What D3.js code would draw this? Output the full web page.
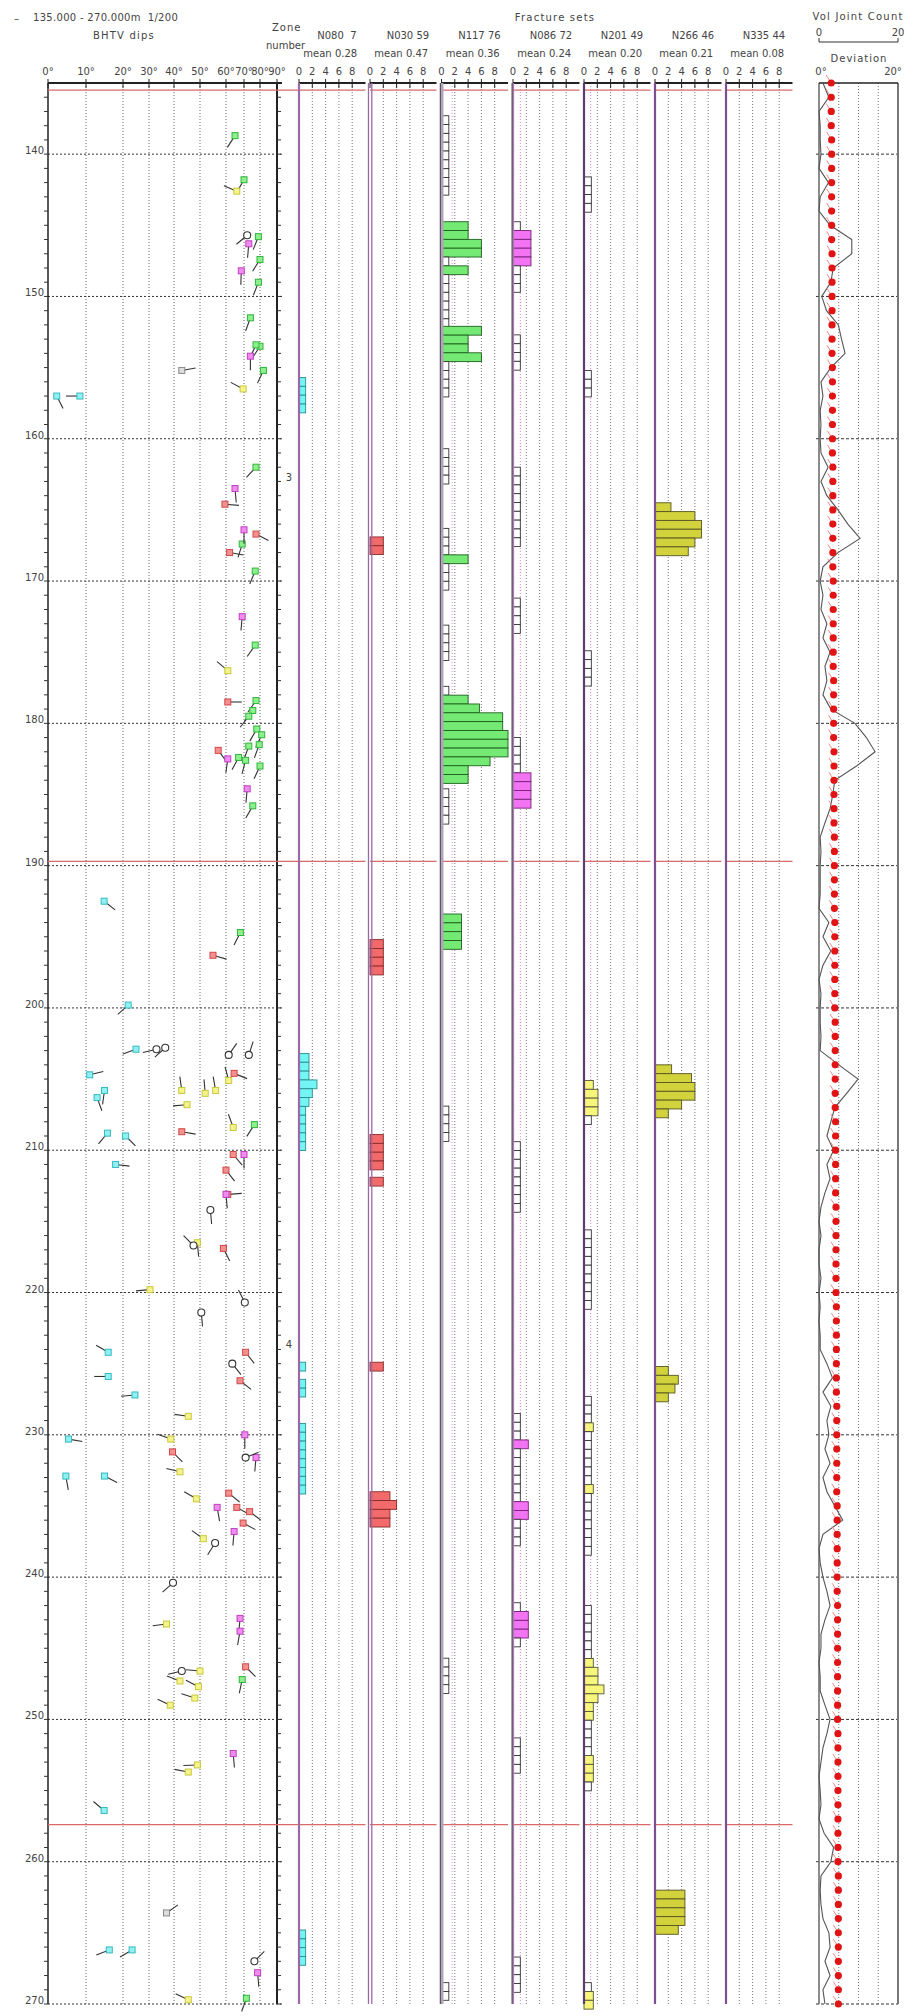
<!DOCTYPE html>
<html>
<head>
<meta charset="utf-8">
<script src="https://cdn.jsdelivr.net/npm/d3@7"></script>
<style>
  body { margin: 0; background: #fff; }
  svg text { font-family: "DejaVu Sans", sans-serif; font-size: 10px; fill: #444; white-space: pre; }
</style>
</head>
<body>
<div id="container"></div>
<script>
/* DATA */
const depthDomain = [135, 270]
const depthTicks = [140, 150, 160, 170, 180, 190, 200, 210, 220, 230, 240, 250, 260, 270]
const dipTicks = [0, 10, 20, 30, 40, 50, 60, 70, 80, 90]
const countTicks = [0, 2, 4, 6, 8]
const zoneBoundaries = [135.5, 189.7, 257.4]
const zoneLabels = ["3", "4"]
const zoneLabelDepths = [162.7, 223.6]

const setNames = ["N080  7", "N030 59", "N117 76", "N086 72", "N201 49", "N266 46", "N335 44"]
const setMeans = ["0.28", "0.47", "0.36", "0.24", "0.20", "0.21", "0.08"]

// histogram runs: [start depth, bin values], 0 = empty box
const binSize = 0.62
const n080Bins = [
  [155.7, [1, 1, 1, 1]],
  [203.2, [1.5, 1.5, 1.5, 2.7, 2, 1.5, 1, 1, 1, 1, 1]],
  [224.9, [1]],
  [226.1, [1, 1]],
  [229.2, [1, 1, 1, 1, 1, 1, 1, 1]],
  [264.8, [1, 1, 1, 1]]
]
const n030Bins = [
  [166.9, [2, 2]],
  [195.2, [2, 2, 2, 2]],
  [208.9, [2, 2, 2, 2]],
  [211.9, [2]],
  [224.9, [2]],
  [234.0, [3, 4, 3, 3]]
]
const n117Bins = [
  [137.3, [0, 0, 0, 0, 0, 0, 0, 0, 0]],
  [144.75, [4, 4, 6, 6, 0, 4, 0, 0, 0, 0, 0, 0]],
  [152.1, [6, 4, 4, 6, 0, 0, 0, 0]],
  [160.7, [0, 0, 0, 0]],
  [166.3, [0, 0, 0, 4, 0, 0, 0]],
  [173.1, [0, 0, 0, 0]],
  [177.4, [0, 4, 5.7, 9.2, 9.2, 10, 10, 10, 7.3, 4, 4]],
  [184.6, [0, 0, 0, 0]],
  [193.4, [3, 3, 3, 3]],
  [206.9, [0, 0, 0, 0]],
  [245.7, [0, 0, 0, 0]],
  [268.5, [0, 0]]
]
const n086Bins = [
  [144.75, [0, 2.7, 2.7, 2.7, 2.7, 0, 0, 0]],
  [152.7, [0, 0, 0, 0]],
  [162.0, [0, 0, 0, 0, 0, 0, 0, 0, 0]],
  [171.2, [0, 0, 0, 0]],
  [181.0, [0, 0, 0, 0, 2.7, 2.7, 2.7, 2.7]],
  [209.4, [0, 0, 0, 0, 0, 0, 0, 0]],
  [228.5, [0, 0, 0, 2.3, 0, 0, 0, 0, 0, 0, 2.3, 2.3, 0, 0, 0]],
  [241.8, [0, 2.3, 2.3, 2.3, 0]],
  [251.3, [0, 0, 0, 0]],
  [266.7, [0, 0, 0, 0]]
]
const n201Bins = [
  [141.6, [0, 0, 0, 0]],
  [155.2, [0, 0, 0]],
  [174.9, [0, 0, 0, 0]],
  [205.1, [1.4, 2.1, 2.1, 2.1, 0]],
  [215.6, [0, 0, 0, 0, 0, 0, 0, 0, 0]],
  [227.3, [0, 0, 0, 1.4, 0, 0, 0, 0, 0, 0, 1.4, 0, 0, 0, 0, 0, 0, 0]],
  [242.0, [0, 0, 0, 0, 0, 0, 1.4, 2.1, 2.1, 3, 2.1, 1.4, 1.4, 0, 0, 0, 0, 1.4, 1.4, 1.4, 0]],
  [268.5, [0, 1.4, 1.4]]
]
const n266Bins = [
  [164.5, [2.4, 6, 7, 7, 6, 5]],
  [204.0, [2.5, 5.5, 6, 6, 4, 2]],
  [225.2, [2, 3.5, 3, 2]],
  [262.0, [4.5, 4.5, 4.5, 4.5, 3.5]]
]
const n335Bins = []

// BHTV dips: [depth, dip, tail azimuth]
const cyanDips = [
  [157.0, 2.3, 153], [157.0, 8.4, 270], [192.5, 14.9, 128], [199.8, 22, 228], [202.9, 25, 250],
  [204.7, 11, 76], [206.3, 13, 160], [205.8, 15, 188], [208.8, 15.8, 220], [209.0, 21, 135],
  [211.0, 18, 97], [224.2, 16, 300], [225.9, 16, 270], [227.2, 24.6, 265], [230.3, 5.4, 100],
  [232.9, 4.7, 170], [232.9, 15, 117], [256.4, 14.9, 310], [266.2, 16.3, 249], [266.2, 23.5, 240]
]
const greenDips = [
  [138.7, 65, 213], [141.8, 70, 210], [145.8, 79, 202], [147.4, 80, 212], [149.0, 79, 201],
  [151.5, 74, 200], [153.5, 80, 213], [153.4, 77.5, 205], [155.2, 82, 205], [162.0, 77.5, 223],
  [167.4, 69, 197], [169.3, 77, 203], [174.5, 77, 215], [178.4, 77.5, 215], [179.1, 75.5, 218],
  [179.5, 73, 218], [180.4, 78, 210], [180.8, 81, 205], [181.5, 79.5, 200], [181.6, 73, 200],
  [182.4, 67, 208], [182.6, 71, 195], [183.0, 80, 205], [185.8, 75.5, 210], [194.7, 68, 207],
  [208.2, 76.5, 213], [247.2, 69, 192], [269.6, 71.5, 200]
]
const yellowDips = [
  [142.6, 66, 293], [156.5, 69.5, 298], [176.3, 61, 310], [205.8, 43, 352], [206.0, 52, 355],
  [205.8, 56, 350], [205.1, 61.5, 345], [206.8, 45, 265], [208.4, 64, 340], [216.5, 49, 175],
  [219.8, 30.4, 265], [228.7, 45.5, 278], [230.3, 38.7, 290], [232.6, 42.3, 284], [234.5, 48.6, 300],
  [237.3, 51.3, 305], [243.3, 37, 263], [246.6, 50, 275], [247.3, 42.3, 291], [247.7, 49.4, 297],
  [248.5, 48, 288], [249.0, 38.5, 295], [253.2, 49, 268], [253.7, 45.5, 281], [269.7, 45.5, 295]
]
const redDips = [
  [164.6, 59.6, 95], [166.7, 77.5, 117], [168.0, 62, 100], [178.5, 61, 90], [181.9, 57, 143],
  [196.3, 55, 106], [204.6, 64.5, 112], [208.7, 43, 100], [210.3, 64, 140], [211.4, 60, 142],
  [213.1, 61, 86], [216.9, 59, 153], [224.2, 71, 142], [226.2, 67.8, 128], [231.2, 39.4, 135],
  [234.1, 61.5, 129], [235.1, 66, 119], [235.4, 73.5, 127], [236.2, 69.5, 118], [246.3, 71, 135]
]
const magentaDips = [
  [146.3, 73, 185], [148.2, 68.5, 182], [154.2, 74, 180], [163.5, 65, 175], [166.4, 70, 180],
  [172.5, 69, 185], [182.5, 61, 188], [184.6, 72, 185], [210.3, 70, 180], [213.1, 60, 175],
  [230.0, 70.5, 180], [231.6, 77.5, 185], [235.1, 56.6, 170], [236.8, 64.5, 185], [242.9, 67.8, 185],
  [243.8, 67.8, 190], [252.4, 64, 175], [267.8, 78.5, 175]
]
const otherDips = [
  [145.7, 72, 230], [202.9, 33, 256], [202.8, 36.5, 228], [203.3, 61.5, 35], [203.3, 73, 18],
  [214.2, 54, 175], [216.7, 47.5, 315], [220.7, 70.5, 333], [221.4, 50.5, 175], [225.0, 63.5, 142],
  [231.6, 71, 68], [237.6, 55.8, 212], [240.4, 39.6, 228], [246.6, 43, 257], [267.0, 76.5, 45]
]
const greyDips = [[155.2, 43, 80], [263.6, 37, 55]]

// one value per metre, 135 m .. 270 m
const jointCount = [
  1, 2.5, 0, 0.3, 0.3, 0.5, 0, 2.4, 0.3, 0,
  2.8, 8.3, 8.3, 3.6, 3, 0.7, 1.9, 4.9, 5.7, 6.6,
  3, 0.5, 1, 0.3, 0.5, 0.3, 0.5, 2.3, 0.5, 2,
  4.8, 7.3, 10.4, 4.8, 1, 0.3, 1, 0.5, 2, 1,
  2.8, 1.5, 2, 1, 3, 9.1, 12, 14.2, 9.5, 4,
  3.5, 2.8, 1.5, 0.3, 0.5, 0.3, 0.3, 0.3, 0, 2.5,
  1, 3, 1, 0, 0.5, 0.3, 0.3, 0.5, 0.3, 5,
  9.9, 7, 4, 3, 2, 3.7, 2, 2.8, 1.5, 0.5,
  0, 0.5, 0, 0, 0.5, 0, 0.3, 0, 0.3, 0.3,
  2, 3.4, 1, 3, 2, 2.5, 1.5, 2.8, 1, 2,
  4, 6, 1, 0, 0.3, 1, 2, 2.8, 1.5, 0.5,
  0.5, 0, 0.3, 0.3, 1.5, 2.8, 2, 1, 0.5, 0,
  0.3, 0.5, 0, 1.3, 3.7, 3, 0.5, 0.3, 0.5, 1,
  2.5, 2.8, 1.5, 2.8, 1, 1.5
]
const deviation = [
  3.1, 3.1, 3.1, 3.1, 3.2, 3.2, 3.2, 3.2, 3.2, 3.2,
  3.2, 3.2, 3.3, 3.3, 3.3, 3.3, 3.3, 3.3, 3.3, 3.3,
  3.4, 3.4, 3.4, 3.4, 3.4, 3.4, 3.4, 3.5, 3.5, 3.5,
  3.5, 3.5, 3.5, 3.5, 3.5, 3.6, 3.6, 3.6, 3.6, 3.6,
  3.6, 3.6, 3.7, 3.7, 3.7, 3.7, 3.7, 3.8, 3.8, 3.8,
  3.8, 3.8, 3.8, 3.9, 3.9, 3.9, 3.9, 3.9, 3.9, 4.0,
  4.0, 4.0, 4.0, 4.0, 4.0, 4.0, 4.1, 4.1, 4.1, 4.1,
  4.1, 4.1, 4.1, 4.2, 4.2, 4.2, 4.2, 4.2, 4.2, 4.3,
  4.3, 4.3, 4.3, 4.3, 4.3, 4.3, 4.4, 4.4, 4.4, 4.4,
  4.4, 4.4, 4.4, 4.5, 4.5, 4.5, 4.5, 4.5, 4.5, 4.5,
  4.6, 4.6, 4.6, 4.6, 4.6, 4.6, 4.6, 4.7, 4.7, 4.7,
  4.7, 4.7, 4.7, 4.7, 4.7, 4.7, 4.8, 4.8, 4.8, 4.8,
  4.8, 4.8, 4.8, 4.8, 4.8, 4.8, 4.9, 4.9, 4.9, 4.9,
  4.9, 4.9, 4.9, 4.9, 4.9, 4.9
]

/* CONSTANTS */
const width = 923, height = 2016
const plotTop = 83, plotBottom = 2004
const colStarts = [299, 370, 441.5, 513, 584, 655, 726]
const colWidth = 66.5
const emptyBox = 1.1
const refLines = [null, null, 1.6, 1.1, 1.0, null, null]
const colFills = ["#74f4f4", "#f26a6a", "#74ea74", "#f274f2", "#f6f67c", "#d2d23c", "#cccccc"]
const colStrokes = ["#2a8f8f", "#8a2a2a", "#1f5f1f", "#7a207a", "#555533", "#555522", "#555"]
const allBins = [n080Bins, n030Bins, n117Bins, n086Bins, n201Bins, n266Bins, n335Bins]

/* SCALES */
const yScale = d3.scaleLinear().domain(depthDomain).range([plotTop, plotBottom])
const dipScale = d3.scaleLinear()
  .domain(dipTicks)
  .range([48, 86, 123, 149, 174, 200, 226, 244, 260, 277])
const colScales = colStarts.map(x0 => d3.scaleLinear().domain([0, 10]).range([x0, x0 + colWidth]))
const rightScale = d3.scaleLinear().domain([0, 20]).range([819, 898])

/* SVG */
const svg = d3.select("#container")
  .append("svg")
  .attr("width", width)
  .attr("height", height)

svg.append("rect").attr("width", width).attr("height", height).attr("fill", "#fff")

/* HEADER */
const header = svg.append("g")
header.append("text").attr("x", 14).attr("y", 22).text("–")
header.append("text").attr("x", 33).attr("y", 21).attr("letter-spacing", 0.3).text("135.000 - 270.000m  1/200")
header.append("text").attr("x", 93).attr("y", 39).attr("letter-spacing", 1.2).text("BHTV dips")
header.append("text").attr("x", 272).attr("y", 31).attr("letter-spacing", 1).text("Zone")
header.append("text").attr("x", 266).attr("y", 49).text("number")
header.append("text").attr("x", 555).attr("y", 21).attr("text-anchor", "middle")
  .attr("letter-spacing", 1.2).text("Fracture sets")

header.selectAll("text.setname")
  .data(setNames)
  .join("text")
  .attr("class", "setname")
  .attr("x", (d, i) => colScales[i](5.7))
  .attr("y", 39)
  .attr("text-anchor", "middle")
  .text(d => d)

header.selectAll("text.setmean")
  .data(setMeans)
  .join("text")
  .attr("class", "setmean")
  .attr("x", (d, i) => colScales[i](4.7))
  .attr("y", 57)
  .attr("text-anchor", "middle")
  .text(d => "mean " + d)

// dip axis labels
header.selectAll("text.diptick")
  .data(dipTicks)
  .join("text")
  .attr("class", "diptick")
  .attr("x", d => dipScale(d))
  .attr("y", 75)
  .attr("text-anchor", "middle")
  .text(d => d + "°")

// fracture count labels
colScales.forEach(sc => {
  header.selectAll(null)
    .data(countTicks)
    .join("text")
    .attr("x", d => sc(d))
    .attr("y", 75)
    .attr("text-anchor", "middle")
    .text(d => d)
})

// right panel header
header.append("text").attr("x", 858).attr("y", 20).attr("text-anchor", "middle")
  .attr("letter-spacing", 1.2).text("Vol Joint Count")
header.append("text").attr("x", rightScale(0)).attr("y", 36).attr("text-anchor", "middle").text("0")
header.append("text").attr("x", rightScale(20)).attr("y", 36).attr("text-anchor", "middle").text("20")
header.append("path")
  .attr("d", `M${rightScale(0)},38 V42 H${rightScale(20)} V38`)
  .attr("fill", "none").attr("stroke", "#333")
header.append("text").attr("x", 859).attr("y", 62).attr("text-anchor", "middle")
  .attr("letter-spacing", 1).text("Deviation")
header.append("text").attr("x", rightScale(0) + 2).attr("y", 75).attr("text-anchor", "middle").text("0°")
header.append("text").attr("x", rightScale(20) - 5).attr("y", 75).attr("text-anchor", "middle").text("20°")

/* GRIDS */
const grid = svg.append("g")

// dip panel vertical dotted lines
grid.selectAll("line.dipgrid")
  .data(dipTicks.slice(1, -1))
  .join("line")
  .attr("x1", d => dipScale(d)).attr("x2", d => dipScale(d))
  .attr("y1", plotTop).attr("y2", plotBottom)
  .attr("stroke", "#666").attr("stroke-dasharray", "1,2")

// depth dotted lines
grid.selectAll("line.depthgrid")
  .data(depthTicks)
  .join("line")
  .attr("x1", 48).attr("x2", 282)
  .attr("y1", d => yScale(d)).attr("y2", d => yScale(d))
  .attr("stroke", "#333").attr("stroke-dasharray", "2,2")

// fracture column dotted lines
colScales.forEach((sc, i) => {
  grid.selectAll(null)
    .data(countTicks.slice(1))
    .join("line")
    .attr("x1", d => sc(d)).attr("x2", d => sc(d))
    .attr("y1", plotTop).attr("y2", plotBottom)
    .attr("stroke", "#777").attr("stroke-dasharray", "1,2")
  if (refLines[i] !== null) {
    grid.append("line")
      .attr("x1", sc(refLines[i])).attr("x2", sc(refLines[i]))
      .attr("y1", plotTop).attr("y2", plotBottom)
      .attr("stroke", "#e080e0").attr("stroke-dasharray", "1,2")
  }
})

// right panel grid
grid.selectAll("line.devgrid")
  .data([5, 10, 15])
  .join("line")
  .attr("x1", d => rightScale(d)).attr("x2", d => rightScale(d))
  .attr("y1", plotTop).attr("y2", plotBottom)
  .attr("stroke", "#777").attr("stroke-dasharray", "1,2")
grid.selectAll("line.devdepth")
  .data(depthTicks)
  .join("line")
  .attr("x1", 816).attr("x2", 898)
  .attr("y1", d => yScale(d)).attr("y2", d => yScale(d))
  .attr("stroke", "#333").attr("stroke-dasharray", "3,2")

/* AXES */
const axes = svg.append("g")
axes.append("line").attr("x1", 48).attr("x2", 48).attr("y1", plotTop).attr("y2", plotBottom)
  .attr("stroke", "#222").attr("stroke-width", 1.5)
axes.append("line").attr("x1", 277).attr("x2", 277).attr("y1", plotTop).attr("y2", plotBottom)
  .attr("stroke", "#222").attr("stroke-width", 2)

// metre ticks on both sides of the dip panel
const metres = d3.range(depthDomain[0] + 1, depthDomain[1] + 1)
axes.selectAll("line.mleft")
  .data(metres)
  .join("line")
  .attr("x1", 44).attr("x2", 48)
  .attr("y1", d => yScale(d)).attr("y2", d => yScale(d))
  .attr("stroke", "#333")
axes.selectAll("line.mright")
  .data(metres)
  .join("line")
  .attr("x1", 277).attr("x2", 281)
  .attr("y1", d => yScale(d)).attr("y2", d => yScale(d))
  .attr("stroke", "#333")

axes.selectAll("text.depth")
  .data(depthTicks)
  .join("text")
  .attr("x", 44)
  .attr("y", d => yScale(d))
  .attr("text-anchor", "end")
  .text(d => d)

// top axis lines
axes.append("line").attr("x1", 48).attr("x2", 282).attr("y1", plotTop).attr("y2", plotTop)
  .attr("stroke", "#222").attr("stroke-width", 2)
axes.selectAll("line.diptop")
  .data(dipTicks)
  .join("line")
  .attr("x1", d => dipScale(d)).attr("x2", d => dipScale(d))
  .attr("y1", plotTop - 4).attr("y2", plotTop + 5)
  .attr("stroke", "#222")

colScales.forEach(sc => {
  axes.append("line").attr("x1", sc(0)).attr("x2", sc(10)).attr("y1", plotTop).attr("y2", plotTop)
    .attr("stroke", "#222").attr("stroke-width", 2)
  axes.selectAll(null)
    .data(countTicks)
    .join("line")
    .attr("x1", d => sc(d)).attr("x2", d => sc(d))
    .attr("y1", plotTop - 4).attr("y2", plotTop + 5)
    .attr("stroke", "#222")
})

// zone boundaries
zoneBoundaries.forEach(z => {
  axes.append("line").attr("x1", 48).attr("x2", colScales[0](10))
    .attr("y1", yScale(z)).attr("y2", yScale(z))
    .attr("stroke", "#d86a6a").attr("stroke-width", 1.2)
  colScales.slice(1).forEach(sc => {
    axes.append("line").attr("x1", sc(0)).attr("x2", sc(10))
      .attr("y1", yScale(z)).attr("y2", yScale(z))
      .attr("stroke", "#d86a6a").attr("stroke-width", 1.2)
  })
})

axes.selectAll("text.zone")
  .data(zoneLabels)
  .join("text")
  .attr("x", 289)
  .attr("y", (d, i) => yScale(zoneLabelDepths[i]) + 4)
  .attr("text-anchor", "middle")
  .text(d => d)

/* HISTOGRAMS */
allBins.forEach((runs, c) => {
  const sc = colScales[c]
  const bins = runs.flatMap(r => r[1].map((v, k) => ({ depth: r[0] + k * binSize, value: v })))
  svg.append("g")
    .selectAll("rect")
    .data(bins)
    .join("rect")
    .attr("x", sc(0))
    .attr("y", d => yScale(d.depth))
    .attr("width", d => sc(d.value > 0 ? d.value : emptyBox) - sc(0))
    .attr("height", d => yScale(d.depth + binSize) - yScale(d.depth))
    .attr("fill", d => d.value > 0 ? colFills[c] : "#fff")
    .attr("stroke", d => d.value > 0 ? colStrokes[c] : "#333")
    .attr("stroke-width", 0.9)
})

// column base lines
const baseStyles = [
  [{ dx: 0, w: 2.2, c: "#9a6aa6" }],
  [{ dx: -1.5, w: 1.3, c: "#9a6aa6" }, { dx: 1.8, w: 1.3, c: "#9a6aa6" }],
  [{ dx: 0, w: 4, c: "#b2a3ba" }, { dx: -1, w: 0.8, c: "#444" }],
  [{ dx: 0, w: 2.2, c: "#a77ab3" }, { dx: -1, w: 0.8, c: "#333" }],
  [{ dx: 0, w: 2.2, c: "#5e3d6e" }],
  [{ dx: 0, w: 2.2, c: "#7d4f91" }],
  [{ dx: 0, w: 2.2, c: "#7d4f91" }]
]
baseStyles.forEach((styles, c) => {
  styles.forEach(s => {
    svg.append("line")
      .attr("x1", colScales[c](0) + s.dx).attr("x2", colScales[c](0) + s.dx)
      .attr("y1", plotTop).attr("y2", plotBottom)
      .attr("stroke", s.c).attr("stroke-width", s.w)
  })
})

/* DIP TADPOLES */
const tailLen = 14
const dipGroups = [
  { data: cyanDips, fill: "#8ff2f2", stroke: "#38b8c0" },
  { data: greenDips, fill: "#8cf08c", stroke: "#33b33f" },
  { data: yellowDips, fill: "#f4f48a", stroke: "#c8c840" },
  { data: redDips, fill: "#f59090", stroke: "#d04848" },
  { data: magentaDips, fill: "#f08cf0", stroke: "#c040c0" },
  { data: greyDips, fill: "#ddd", stroke: "#888" }
]
const tadpoles = svg.append("g")
dipGroups.forEach(g => {
  const sel = tadpoles.append("g")
  sel.selectAll("line")
    .data(g.data)
    .join("line")
    .attr("x1", d => dipScale(d[1]))
    .attr("y1", d => yScale(d[0]))
    .attr("x2", d => dipScale(d[1]) + tailLen * Math.sin(d[2] * Math.PI / 180))
    .attr("y2", d => yScale(d[0]) - tailLen * Math.cos(d[2] * Math.PI / 180))
    .attr("stroke", "#333").attr("stroke-width", 1.1)
  sel.selectAll("rect")
    .data(g.data)
    .join("rect")
    .attr("x", d => dipScale(d[1]) - 3)
    .attr("y", d => yScale(d[0]) - 3)
    .attr("width", 6).attr("height", 6)
    .attr("fill", g.fill)
    .attr("stroke", g.stroke)
    .attr("stroke-width", 1)
})
const others = tadpoles.append("g")
others.selectAll("line")
  .data(otherDips)
  .join("line")
  .attr("x1", d => dipScale(d[1]))
  .attr("y1", d => yScale(d[0]))
  .attr("x2", d => dipScale(d[1]) + tailLen * Math.sin(d[2] * Math.PI / 180))
  .attr("y2", d => yScale(d[0]) - tailLen * Math.cos(d[2] * Math.PI / 180))
  .attr("stroke", "#333").attr("stroke-width", 1.1)
others.selectAll("circle")
  .data(otherDips)
  .join("circle")
  .attr("cx", d => dipScale(d[1]))
  .attr("cy", d => yScale(d[0]))
  .attr("r", 3.5)
  .attr("fill", "#fff")
  .attr("stroke", "#333")
  .attr("stroke-width", 1.1)

/* RIGHT PANEL */
const right = svg.append("g")
right.append("line").attr("x1", 819).attr("x2", 819).attr("y1", plotTop).attr("y2", plotBottom)
  .attr("stroke", "#666").attr("stroke-width", 1.5)
right.append("line").attr("x1", 898).attr("x2", 898).attr("y1", plotTop).attr("y2", plotBottom)
  .attr("stroke", "#777").attr("stroke-width", 2)
right.append("line").attr("x1", 819).attr("x2", 898).attr("y1", plotTop).attr("y2", plotTop)
  .attr("stroke", "#222").attr("stroke-width", 1.5)

const perMetre = d3.range(depthDomain[0], depthDomain[1] + 1)

right.append("path")
  .datum(jointCount)
  .attr("fill", "none")
  .attr("stroke", "#555")
  .attr("stroke-width", 1.1)
  .attr("d", d3.line()
    .x(d => rightScale(d))
    .y((d, i) => yScale(perMetre[i])))

right.selectAll("line.devtail")
  .data(deviation)
  .join("line")
  .attr("x1", d => rightScale(d) - 5)
  .attr("y1", (d, i) => yScale(perMetre[i]) - 8)
  .attr("x2", d => rightScale(d))
  .attr("y2", (d, i) => yScale(perMetre[i]))
  .attr("stroke", "#f08a8a").attr("stroke-width", 1)

right.selectAll("circle")
  .data(deviation)
  .join("circle")
  .attr("cx", d => rightScale(d))
  .attr("cy", (d, i) => yScale(perMetre[i]))
  .attr("r", 3.6)
  .attr("fill", "#e01414")
</script>
</body>
</html>
